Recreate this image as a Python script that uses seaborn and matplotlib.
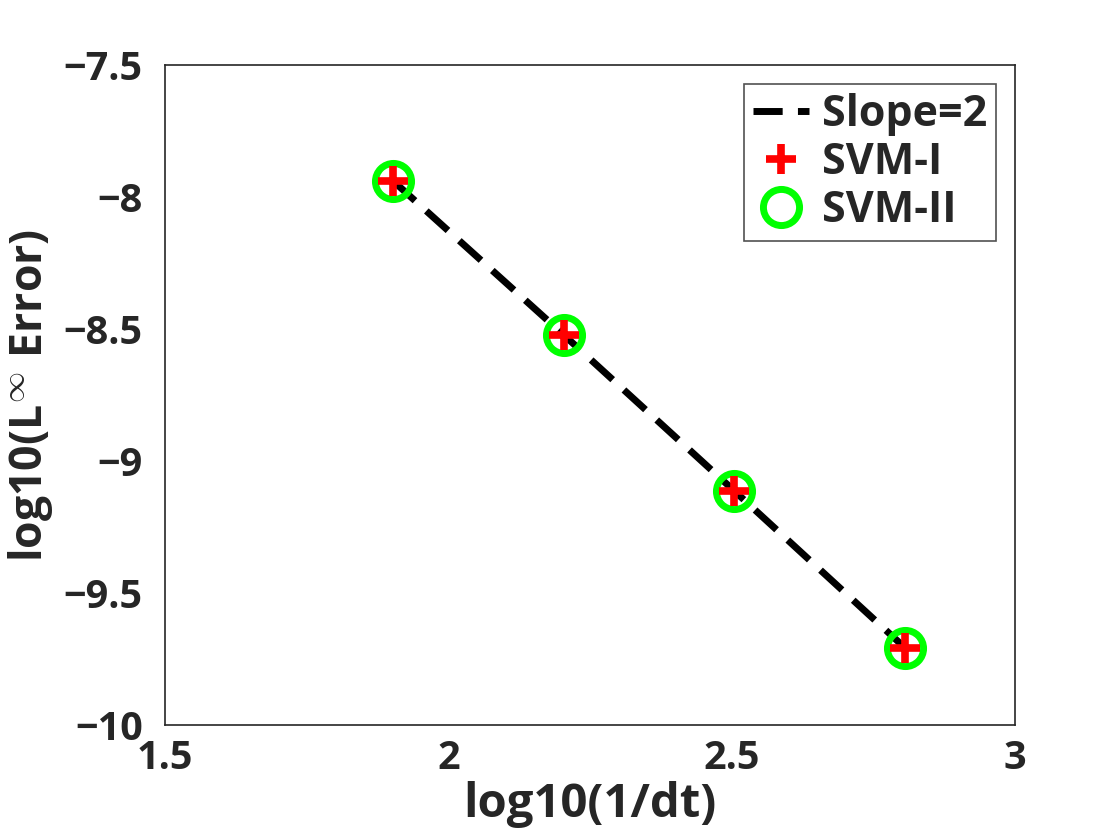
import matplotlib
matplotlib.use("Agg")
import matplotlib.pyplot as plt
import seaborn as sns

# 数据: 时间步长收敛测试
log_inv_dt = [1.903, 2.204, 2.505, 2.806]
err_svm1 = [-7.94, -8.523, -9.114, -9.708]
err_svm2 = [-7.94, -8.523, -9.114, -9.708]
slope_line = [-7.94, -8.523, -9.114, -9.708]

xticks = [1.5, 2, 2.5, 3]
yticks = [-10, -9.5, -9, -8.5, -8, -7.5]

sns.set_style("white")
plt.rcParams['font.family'] = ['Open Sans', 'DejaVu Sans']
plt.rcParams['font.weight'] = 'bold'
plt.rcParams['mathtext.fontset'] = 'cm'

fig = plt.figure(figsize=(11.2, 8.4), dpi=100)
ax = fig.add_axes([0.1473, 0.137, 0.7589, 0.7856])

sns.lineplot(x=log_inv_dt, y=slope_line, ax=ax, color='black', linewidth=5,
             label='Slope=2')
ax.lines[0].set_dashes([4.2, 2.2])
sns.lineplot(x=log_inv_dt, y=err_svm1, ax=ax, color='red', linestyle='',
             marker='+', markersize=21, markeredgewidth=5.5,
             markeredgecolor='red', label='SVM-I', zorder=5)
sns.lineplot(x=log_inv_dt, y=err_svm2, ax=ax, color='#00ff00', linestyle='',
             marker='o', markersize=26, markeredgewidth=5,
             markerfacecolor='none', markeredgecolor='#00ff00', label='SVM-II',
             zorder=4)

ax.set_xlim(1.5, 3)
ax.set_ylim(-10, -7.5)
ax.set_xticks(xticks)
ax.set_xticklabels(['1.5', '2', '2.5', '3'])
ax.set_yticks(yticks)
ax.set_yticklabels(['\u221210', '\u22129.5', '\u22129', '\u22128.5', '\u22128', '\u22127.5'])
ax.tick_params(direction='in', length=8, width=1.2, labelsize=28.5,
               labelcolor='#262626', color='#262626')
ax.tick_params(axis='x', pad=10)
ax.tick_params(axis='y', pad=16)
for s in ax.spines.values():
    s.set_color('#262626')
    s.set_linewidth(1.2)

ax.set_xlabel('log10(1/dt)', fontsize=34, fontweight='bold', color='#262626',
              labelpad=2)
ax.set_ylabel(r'log10(L$^{\infty}$ Error)', fontsize=32, fontweight='bold',
              color='#262626', labelpad=6)

leg = ax.legend(loc='upper right', fontsize=31, frameon=True, fancybox=False,
                edgecolor='#262626', handlelength=1.3, handletextpad=0.3,
                borderpad=0.2, labelspacing=0.12, borderaxespad=0.45)
leg.get_frame().set_linewidth(1.2)
for t in leg.get_texts():
    t.set_fontweight('bold')

fig.savefig('out.png', dpi=100)
